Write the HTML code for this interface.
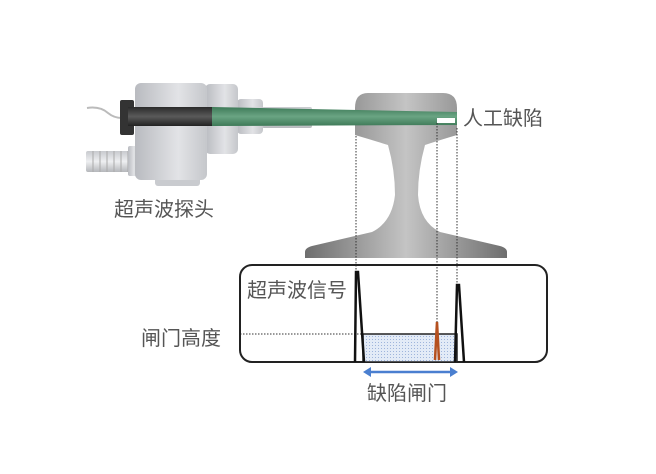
<!DOCTYPE html>
<html><head><meta charset="utf-8"><style>
body{margin:0;background:#fff}
svg text{font-family:"Liberation Sans","Noto Sans CJK SC",sans-serif;font-size:20px;fill:#555}
</style></head><body>
<svg width="656" height="469" viewBox="0 0 656 469" xmlns="http://www.w3.org/2000/svg">
<defs>
<linearGradient id="rail" x1="0" x2="1"><stop offset="0" stop-color="#6e6e6e"/><stop offset="0.5" stop-color="#c4c4c4"/><stop offset="1" stop-color="#6e6e6e"/></linearGradient>
<linearGradient id="metal" x1="0" x2="1"><stop offset="0" stop-color="#b9bbc0"/><stop offset="0.6" stop-color="#e2e3e6"/><stop offset="1" stop-color="#c5c7cb"/></linearGradient>
<linearGradient id="metalv" x1="0" y1="0" x2="0" y2="1"><stop offset="0" stop-color="#c8cace"/><stop offset="0.5" stop-color="#eeeff1"/><stop offset="1" stop-color="#b5b7bb"/></linearGradient>
<linearGradient id="green" x1="0" y1="0" x2="0" y2="1"><stop offset="0" stop-color="#3e7a58"/><stop offset="0.5" stop-color="#6aa483"/><stop offset="1" stop-color="#3e7a58"/></linearGradient>
<linearGradient id="black" x1="0" y1="0" x2="0" y2="1"><stop offset="0" stop-color="#2a2a2a"/><stop offset="0.5" stop-color="#5a5a5a"/><stop offset="1" stop-color="#222"/></linearGradient>
<pattern id="dots" width="3" height="3" patternUnits="userSpaceOnUse"><rect width="3" height="3" fill="#e3ebf7"/><rect width="1" height="1" fill="#9fb5dc"/></pattern>
</defs>
<path d="M368,93 L443,93 Q457,93 457,108 L457,135 Q440,140 425,145 Q418,170 418,195 Q420,222 440,232 L500,246 Q507,248 507,252 L507,258 L305,258 L305,252 Q305,248 312,246 L372,232 Q392,222 395,195 Q395,170 388,145 Q372,140 355,135 L355,108 Q355,93 368,93 Z" fill="url(#rail)"/>
<path d="M87,108 Q100,106 108,113 Q114,118 122,118" stroke="#bbb" stroke-width="2" fill="none"/>
<rect x="86" y="151" width="48" height="21" rx="2" fill="url(#metalv)"/>
<g stroke="#aaa" stroke-width="1">
<line x1="93" y1="151" x2="93" y2="172"/><line x1="100" y1="151" x2="100" y2="172"/><line x1="107" y1="151" x2="107" y2="172"/><line x1="114" y1="151" x2="114" y2="172"/><line x1="121" y1="151" x2="121" y2="172"/><line x1="128" y1="151" x2="128" y2="172"/>
</g>
<rect x="128" y="146" width="10" height="30" rx="2" fill="url(#metal)"/>
<rect x="155" y="176" width="45" height="10" rx="3" fill="#c9cbcf"/>
<rect x="262" y="107" width="50" height="21" rx="2" fill="url(#metalv)"/>
<rect x="237" y="99" width="26" height="35" rx="4" fill="url(#metal)"/>
<rect x="205" y="84" width="33" height="70" rx="5" fill="url(#metal)"/>
<rect x="135" y="83" width="72" height="97" rx="6" fill="url(#metal)"/>
<rect x="120" y="100" width="14" height="35" rx="2" fill="#333"/>
<rect x="128" y="107" width="84" height="19" fill="url(#black)"/>
<path d="M212,107 L457,112 L457,125 L212,126 Z" fill="url(#green)"/>
<rect x="437" y="118" width="18" height="5" fill="#fff"/>
<g stroke="#333" stroke-width="1" stroke-dasharray="1.5,1.5">
<line x1="356" y1="136" x2="356" y2="270"/>
<line x1="437" y1="123" x2="437" y2="322"/>
<line x1="457" y1="128" x2="457" y2="285"/>
<line x1="240" y1="334" x2="362" y2="334"/>
</g>
<rect x="240" y="265" width="307" height="97" rx="12" fill="none" stroke="#222" stroke-width="2"/>
<rect x="363" y="334" width="94" height="28" fill="url(#dots)" stroke="#222" stroke-width="1.5"/>
<path d="M355,362 L356,272 L358,272 L364,362" fill="none" stroke="#111" stroke-width="2.5"/>
<path d="M455,362 L457,285 L459,285 L464,362" fill="none" stroke="#111" stroke-width="2.5"/>
<path d="M435,360 L437,322 L439,360" fill="none" stroke="#b5501f" stroke-width="2.5"/>
<line x1="368" y1="372" x2="452" y2="372" stroke="#4a7fd0" stroke-width="2.5"/>
<path d="M363,372 L371,367 L371,377 Z" fill="#4a7fd0"/>
<path d="M458,372 L450,367 L450,377 Z" fill="#4a7fd0"/>
<text x="463" y="125">人工缺陷</text>
<text x="114" y="216">超声波探头</text>
<text x="247" y="297">超声波信号</text>
<text x="141" y="345">闸门高度</text>
<text x="367" y="400">缺陷闸门</text>
</svg>
</body></html>
